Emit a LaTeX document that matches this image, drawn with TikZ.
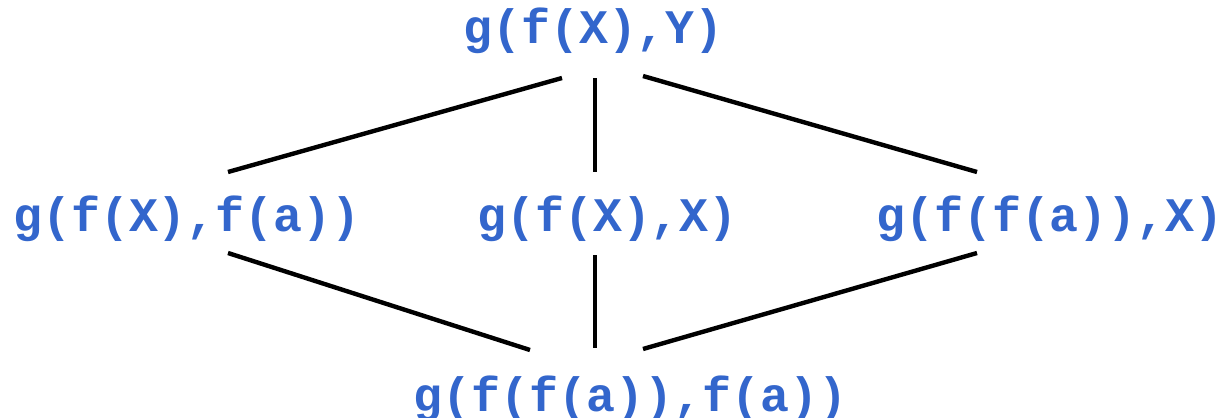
\documentclass[tikz,border=0pt]{standalone}
\usepackage{fontspec}
\setmonofont{Liberation Mono}
\definecolor{termblue}{HTML}{3366CC}

\begin{document}
\begin{tikzpicture}[x=0.5pt,y=-0.5pt,
  term/.style={anchor=base west, inner sep=0pt, text=termblue,
    font=\ttfamily\bfseries\fontsize{24.1pt}{27pt}\selectfont},
  edge/.style={black, line width=2.2pt}]
\useasboundingbox (0,0) rectangle (1222,418);
% terms
\node[term] (top) at (463,43) {g(f(X),Y)};
\node[term] (left) at (13,231) {g(f(X),f(a))};
\node[term] (mid) at (477,231) {g(f(X),X)};
\node[term] (right) at (876,231) {g(f(f(a)),X)};
\node[term] (bot) at (413,411) {g(f(f(a)),f(a))};
% line ends
\coordinate (top-l) at (562,78);
\coordinate (top-m) at (595,78);
\coordinate (top-r) at (643,76);
\coordinate (left-t) at (228,172);
\coordinate (left-b) at (228,253);
\coordinate (mid-t) at (595,172);
\coordinate (mid-b) at (595,255);
\coordinate (right-t) at (977,172);
\coordinate (right-b) at (977,253);
\coordinate (bot-l) at (530,350);
\coordinate (bot-m) at (595,348);
\coordinate (bot-r) at (643,349);
\draw[edge] (top-l) -- (left-t);
\draw[edge] (top-m) -- (mid-t);
\draw[edge] (top-r) -- (right-t);
\draw[edge] (left-b) -- (bot-l);
\draw[edge] (mid-b) -- (bot-m);
\draw[edge] (right-b) -- (bot-r);
\end{tikzpicture}
\end{document}
